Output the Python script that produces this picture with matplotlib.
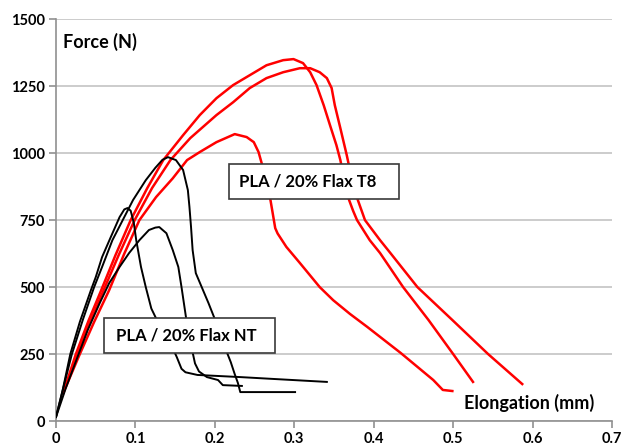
import matplotlib
matplotlib.use('Agg')
import matplotlib.pyplot as plt
from matplotlib.patches import Rectangle

plt.rcParams['font.family'] = ['Lato', 'DejaVu Sans']

# PLA / 20% Flax T8 (red)
t8_a_x = [0.009, 0.025, 0.041, 0.057, 0.075, 0.094, 0.115, 0.135, 0.160, 0.181, 0.202, 0.223,
          0.244, 0.265, 0.286, 0.299, 0.311, 0.320, 0.328, 0.337, 0.345, 0.353, 0.358, 0.363,
          0.369, 0.374, 0.379, 0.395, 0.408, 0.437, 0.469, 0.500, 0.525]
t8_a_y = [104, 250, 375, 489, 620, 750, 870, 974, 1067, 1142, 1205, 1254,
          1291, 1328, 1347, 1351, 1336, 1302, 1254, 1179, 1104, 1030, 974, 900,
          825, 785, 750, 675, 627, 500, 377, 250, 146]
t8_b_x = [0.009, 0.027, 0.043, 0.060, 0.079, 0.099, 0.121, 0.144, 0.169, 0.202, 0.223, 0.244,
          0.265, 0.286, 0.307, 0.320, 0.332, 0.341, 0.347, 0.351, 0.358, 0.366, 0.372, 0.380,
          0.389, 0.408, 0.421, 0.455, 0.499, 0.544, 0.587]
t8_b_y = [104, 250, 370, 489, 620, 750, 870, 974, 1056, 1142, 1190, 1243,
          1280, 1302, 1317, 1317, 1302, 1280, 1243, 1179, 1093, 993, 910, 825,
          750, 675, 627, 500, 377, 250, 138]
t8_c_x = [0.009, 0.030, 0.048, 0.067, 0.086, 0.105, 0.126, 0.147, 0.165, 0.181, 0.202, 0.225,
          0.240, 0.249, 0.255, 0.262, 0.270, 0.276, 0.279, 0.290, 0.307, 0.332, 0.349, 0.370,
          0.392, 0.434, 0.475, 0.487, 0.499]
t8_c_y = [104, 250, 370, 489, 625, 750, 836, 906, 974, 1004, 1041, 1071,
          1060, 1041, 1004, 930, 825, 720, 700, 650, 590, 500, 451, 400,
          351, 254, 153, 116, 112]

# PLA / 20% Flax NT (black)
nt_a_x = [0.000, 0.008, 0.018, 0.030, 0.044, 0.050, 0.058, 0.069, 0.080, 0.086, 0.090, 0.094,
          0.098, 0.101, 0.107, 0.113, 0.120, 0.127, 0.136, 0.144, 0.152, 0.158, 0.163, 0.178,
          0.232, 0.274, 0.341]
nt_a_y = [15, 110, 250, 370, 489, 537, 612, 687, 761, 790, 795, 785,
          739, 675, 575, 500, 420, 377, 335, 291, 239, 195, 182, 172,
          164, 157, 146]
nt_b_x = [0.000, 0.008, 0.020, 0.034, 0.048, 0.058, 0.071, 0.084, 0.097, 0.113, 0.125, 0.134,
          0.141, 0.151, 0.160, 0.166, 0.168, 0.170, 0.172, 0.176, 0.185, 0.192, 0.200, 0.207,
          0.214, 0.220, 0.225, 0.229, 0.232, 0.301]
nt_b_y = [15, 110, 250, 380, 500, 575, 675, 750, 825, 899, 945, 975,
          985, 974, 937, 862, 799, 724, 638, 552, 489, 440, 380, 313,
          265, 220, 175, 142, 108, 108]
nt_c_x = [0.000, 0.012, 0.028, 0.040, 0.055, 0.067, 0.080, 0.092, 0.105, 0.117, 0.125, 0.130,
          0.139, 0.147, 0.154, 0.158, 0.162, 0.166, 0.171, 0.175, 0.180, 0.190, 0.204, 0.210,
          0.234]
nt_c_y = [15, 120, 246, 340, 440, 515, 575, 627, 675, 713, 722, 724,
          701, 638, 575, 500, 420, 340, 270, 215, 185, 164, 153, 134,
          131]

x_ticks = [0, 0.1, 0.2, 0.3, 0.4, 0.5, 0.6, 0.7]
x_labels = ['0', '0.1', '0.2', '0.3', '0.4', '0.5', '0.6', '0.7']
y_ticks = [0, 250, 500, 750, 1000, 1250, 1500]

fig = plt.figure(figsize=(6.21, 4.46), dpi=100)
ax = fig.add_axes([0.0902, 0.056, 0.8953, 0.901])

for xs, ys in [(t8_a_x, t8_a_y), (t8_b_x, t8_b_y), (t8_c_x, t8_c_y)]:
    ax.plot(xs, ys, color='#ff0000', lw=1.8, zorder=3, solid_joinstyle='round')
for xs, ys in [(nt_a_x, nt_a_y), (nt_b_x, nt_b_y), (nt_c_x, nt_c_y)]:
    ax.plot(xs, ys, color='black', lw=1.4, zorder=4, solid_joinstyle='round')

ax.set_xlim(0, 0.7)
ax.set_ylim(0, 1500)
ax.set_xticks(x_ticks)
ax.set_xticklabels(x_labels)
ax.set_yticks(y_ticks)
for lab in ax.get_xticklabels() + ax.get_yticklabels():
    lab.set_fontweight('bold')
    lab.set_fontsize(10.5)

# 网格与坐标轴
ax.grid(axis='y', color='#c4c4c4', linewidth=1.2)
ax.set_axisbelow(True)
for s in ['top', 'right']:
    ax.spines[s].set_visible(False)
for s in ['left', 'bottom']:
    ax.spines[s].set_color('#909090')
    ax.spines[s].set_linewidth(1.2)
ax.tick_params(axis='both', color='#909090', length=5, width=1.2, pad=3)
ax.spines['bottom'].set_zorder(5)

ax.text(0.009, 1414, 'Force (N)', fontsize=13, fontweight='bold', va='center', ha='left')
ax.text(0.514, 67, 'Elongation (mm)', fontsize=13, fontweight='bold', va='center', ha='left')

# 文本框
ax.add_patch(Rectangle((0.218, 828), 0.214, 131, facecolor='white', edgecolor='#3a3a3a',
                       linewidth=1.2, zorder=6))
ax.text(0.231, 894, 'PLA / 20% Flax T8', fontsize=12, fontweight='bold',
        va='center', ha='left', zorder=7)
ax.add_patch(Rectangle((0.0605, 254), 0.2153, 130, facecolor='white', edgecolor='#3a3a3a',
                       linewidth=1.2, zorder=6))
ax.text(0.075, 319, 'PLA / 20% Flax NT', fontsize=12, fontweight='bold',
        va='center', ha='left', zorder=7)

fig.savefig('out.png', dpi=100)
